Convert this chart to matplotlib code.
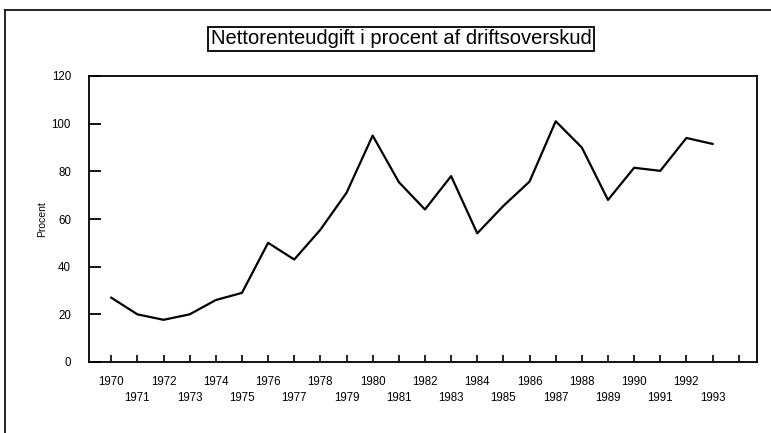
import matplotlib.pyplot as plt
from matplotlib.lines import Line2D

plt.rcParams['font.family'] = ['Liberation Sans', 'DejaVu Sans']

# Data
years = list(range(1970, 1994))
procent = [27, 20, 17.7, 20, 26, 29, 50, 43, 55.5, 71, 95, 75.5, 64, 78, 54,
           65.5, 75.7, 101, 90, 68, 81.5, 80.2, 94, 91.5]
tick_years = list(range(1970, 1995))

W, H = 771, 433
fig = plt.figure(figsize=(W / 100, H / 100), dpi=100)

# axes placement in pixels: left 89, right 757, top 76, bottom 362
ax = fig.add_axes([89 / W, 1 - 362 / H, (757 - 89) / W, (362 - 76) / H])
ax.plot(years, procent, color='black', linewidth=1.6)
ax.set_xlim(1969.15, 1994.7)
ax.set_ylim(0, 120)

ax.set_yticks([0, 20, 40, 60, 80, 100, 120])
ax.tick_params(axis='y', direction='in', length=8.5, width=1.3, labelsize=8.3, pad=13)
ax.set_xticks(tick_years)
ax.set_xticklabels([])
ax.tick_params(axis='x', direction='in', length=5, width=1.2)
for s in ax.spines.values():
    s.set_linewidth(1.3)

# staggered year labels
for y in years:
    off = 0.05 if y % 2 == 0 else 0.105
    ax.text(y, -off, str(y), transform=ax.get_xaxis_transform(),
            ha='center', va='top', fontsize=8.3)

ax.set_ylabel('Procent', fontsize=7.5, labelpad=3)

# title in a box
fig.text(401 / W, 1 - 39 / H, 'Nettorenteudgift i procent af driftsoverskud',
         ha='center', va='center', fontsize=14.5,
         bbox=dict(boxstyle='square,pad=0.12', facecolor='white', edgecolor='black', linewidth=1.3))

# partial outer frame (top and left)
fig.add_artist(Line2D([5 / W, 1], [1 - 10 / H, 1 - 10 / H], color='black', linewidth=1.2,
                      transform=fig.transFigure))
fig.add_artist(Line2D([5 / W, 5 / W], [0, 1 - 10 / H], color='black', linewidth=1.2,
                      transform=fig.transFigure))

fig.savefig('out.png', dpi=100)
